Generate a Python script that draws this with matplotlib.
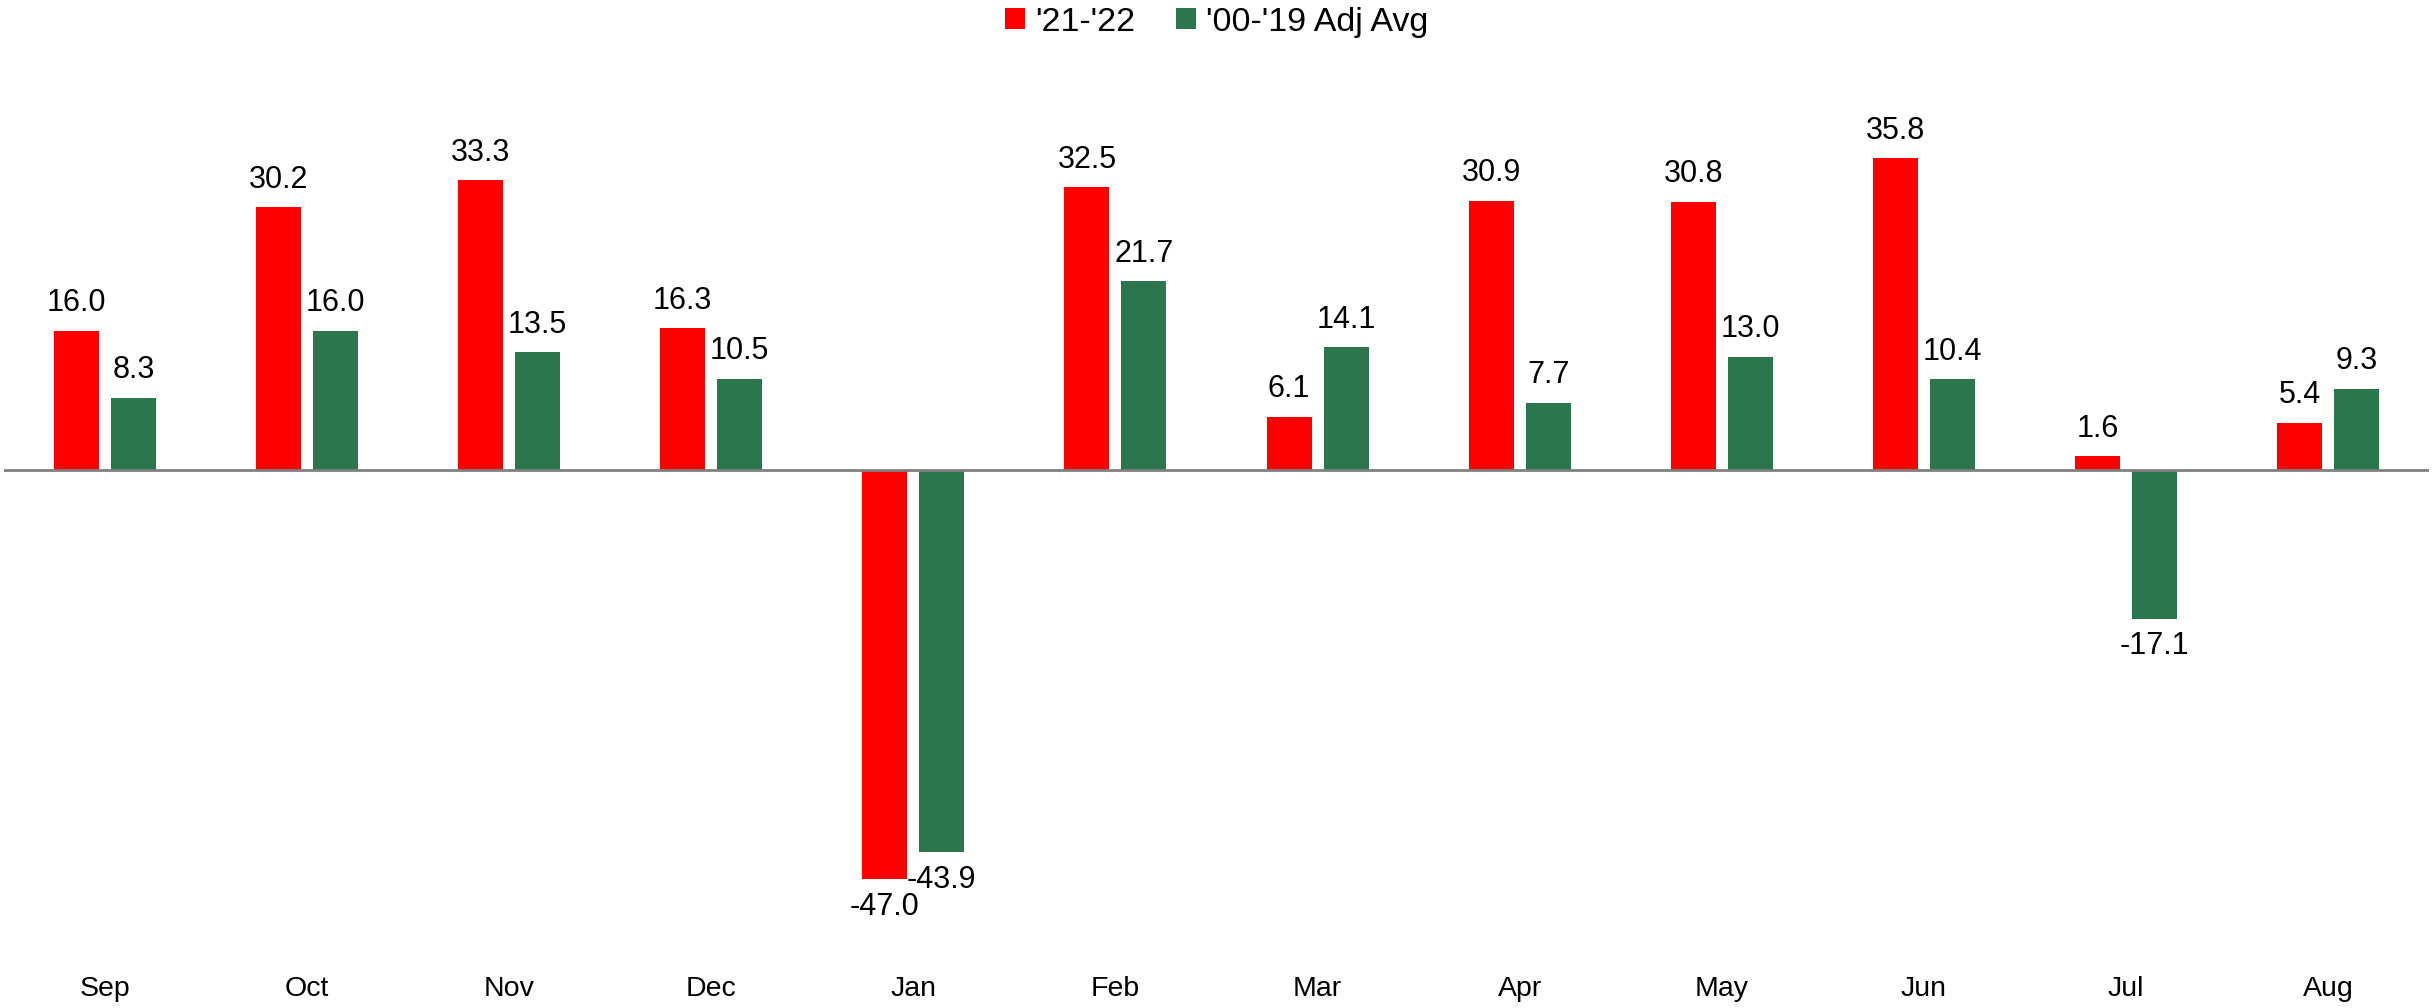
import matplotlib
matplotlib.use("Agg")
import matplotlib.pyplot as plt
import numpy as np

plt.rcParams["font.family"] = ["Liberation Sans", "DejaVu Sans"]

months = ["Sep", "Oct", "Nov", "Dec", "Jan", "Feb", "Mar", "Apr", "May", "Jun", "Jul", "Aug"]
recent = [16.0, 30.2, 33.3, 16.3, -47.0, 32.5, 6.1, 30.9, 30.8, 35.8, 1.6, 5.4]
hist_avg = [8.3, 16.0, 13.5, 10.5, -43.9, 21.7, 14.1, 7.7, 13.0, 10.4, -17.1, 9.3]

red = "#FF0000"
green = "#2C764D"

fig = plt.figure(figsize=(24.33, 10.08), dpi=100)
ax = fig.add_axes([0.0016, 0.0675, 0.9968, 0.873])

x = np.arange(len(months))
width = 0.223
offset = 0.141

bars_red = ax.bar(x - offset, recent, width, color=red, label="'21-'22")
bars_green = ax.bar(x + offset, hist_avg, width, color=green, label="'00-'19 Adj Avg")

ax.bar_label(bars_red, fmt="{:.1f}", padding=9, fontsize=22)
ax.bar_label(bars_green, fmt="{:.1f}", padding=9, fontsize=22)

ax.axhline(0, color="#808080", linewidth=2, zorder=3)

ax.set_xlim(-0.5, len(months) - 0.5)
ax.set_ylim(-54.0, 47.1)
ax.set_xticks(x)
ax.set_xticklabels(months, fontsize=20.5)
ax.tick_params(axis="x", length=0, pad=26)
ax.set_yticks([])
for spine in ax.spines.values():
    spine.set_visible(False)

fig.legend(
    loc="upper center",
    bbox_to_anchor=(0.5, 1.0),
    ncol=2,
    frameon=False,
    fontsize=24.5,
    handlelength=0.59,
    handleheight=0.59,
    handletextpad=0.3,
    columnspacing=1.18,
    borderaxespad=0.1,
    borderpad=0.1,
)

fig.savefig("out.png", dpi=100)
